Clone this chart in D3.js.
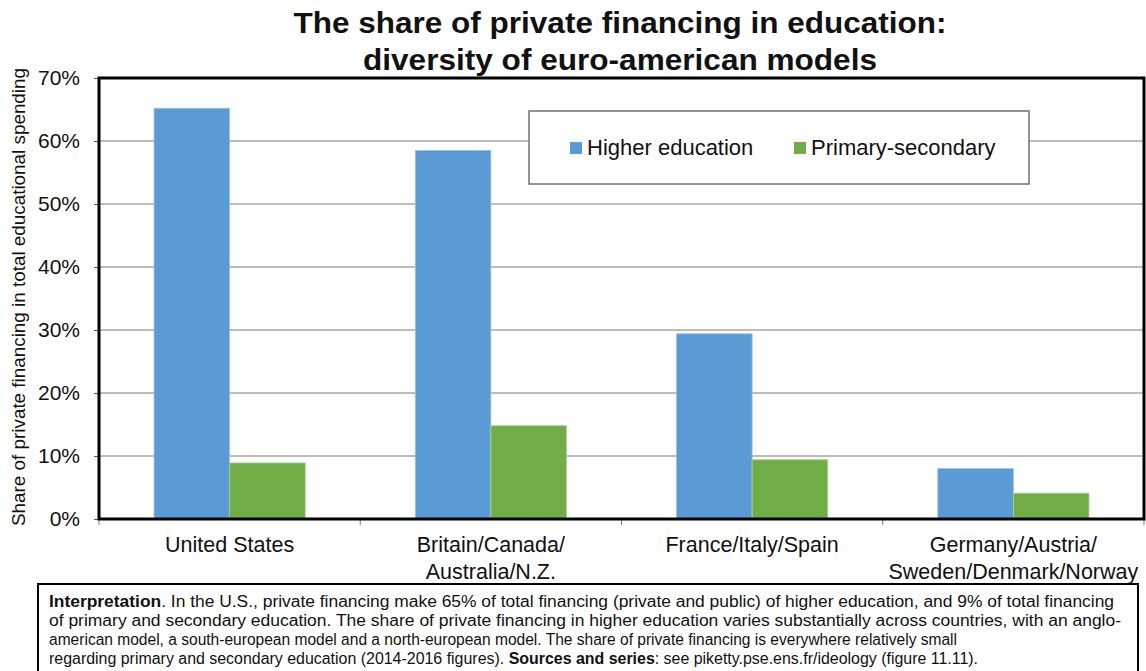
<!DOCTYPE html>
<html>
<head>
<meta charset="utf-8">
<script src="https://cdn.jsdelivr.net/npm/d3@7"></script>
<style>
  html, body { margin: 0; padding: 0; background: #fff; }
  svg { display: block; }
  text { font-family: "Liberation Sans", Arial, sans-serif; fill: #111; }
  .narrow { font-family: "Liberation Sans Narrow", "Liberation Sans", Arial, sans-serif; }
</style>
</head>
<body>
<svg id="chart" width="1146" height="671"></svg>
<script>
// Country groups and the share of private financing in each spending category
const groups = ["United States", "Britain/Canada/Australia/N.Z.", "France/Italy/Spain", "Germany/Austria/Sweden/Denmark/Norway"];
const groupLabels = [["United States"], ["Britain/Canada/", "Australia/N.Z."], ["France/Italy/Spain"], ["Germany/Austria/", "Sweden/Denmark/Norway"]];
const seriesNames = ["Higher education", "Primary-secondary"];
const higherEducation = [0.652, 0.585, 0.294, 0.080];
const primarySecondary = [0.089, 0.148, 0.094, 0.041];
const yTicks = [0, 0.1, 0.2, 0.3, 0.4, 0.5, 0.6, 0.7];
const colors = ["#5b9bd5", "#70ad47"];

const titleLines = ["The share of private financing in education:", "diversity of euro-american models"];
const yTitle = "Share of private financing in total educational spending";
const noteLines = [
  [["Interpretation", true], [". In the U.S., private financing make 65% of total financing (private and public) of higher education, and 9% of total financing", false]],
  [["of primary and secondary education. The share of private financing in higher education varies substantially across countries, with an anglo-", false]],
  [["american model, a south-european model and a north-european model. The share of private financing is everywhere relatively small", false]],
  [["regarding primary and secondary education (2014-2016 figures). ", false], ["Sources and series", true], [": see piketty.pse.ens.fr/ideology (figure 11.11).", false]]
];

const svg = d3.select("#chart");
const plot = { left: 99, right: 1144, top: 78, bottom: 519 };

const x = d3.scaleBand().domain(groups).range([plot.left, plot.right]).paddingInner(0).paddingOuter(0);
const xs = d3.scaleBand().domain(seriesNames).range([0, x.bandwidth()]).paddingInner(0).paddingOuter(0.728);
const y = d3.scaleLinear().domain([0, 0.7]).range([plot.bottom, plot.top]);

// Title
const title = svg.append("g");
const titleWidths = [653, 514];
const titleBaselines = [33, 70];
titleLines.forEach((t, i) => {
  title.append("text")
    .attr("class", "narrow")
    .attr("x", 620).attr("y", titleBaselines[i])
    .attr("text-anchor", "middle")
    .attr("font-size", 30).attr("font-weight", "bold")
    .attr("textLength", titleWidths[i]).attr("lengthAdjust", "spacingAndGlyphs")
    .text(t);
});

// Horizontal gridlines
svg.append("g")
  .selectAll("line")
  .data(yTicks.filter(d => d > 0 && d < 0.7))
  .join("line")
  .attr("x1", plot.left).attr("x2", plot.right)
  .attr("y1", d => y(d)).attr("y2", d => y(d))
  .attr("stroke", "#a6a6a6").attr("stroke-width", 1.5);

// Bars
const data = groups.map((g, i) => ({ group: g, values: [higherEducation[i], primarySecondary[i]] }));
svg.append("g")
  .selectAll("g")
  .data(data)
  .join("g")
  .attr("transform", d => `translate(${x(d.group)},0)`)
  .selectAll("rect")
  .data(d => d.values.map((v, k) => ({ key: seriesNames[k], value: v, k })))
  .join("rect")
  .attr("x", d => xs(d.key))
  .attr("width", xs.bandwidth())
  .attr("y", d => y(d.value))
  .attr("height", d => y(0) - y(d.value))
  .attr("fill", d => colors[d.k])
  .attr("stroke", d => d.k === 0 ? "#9dc3e6" : "#a9d18e")
  .attr("stroke-width", 0.8);

// Y axis with percent labels
const yAxis = d3.axisLeft(y).tickValues(yTicks).tickFormat(d3.format(".0%")).tickSize(5).tickPadding(14);
const gy = svg.append("g").attr("transform", `translate(${plot.left},0)`).call(yAxis);
gy.select(".domain").remove();
gy.selectAll(".tick line").attr("stroke", "#555").attr("stroke-width", 1);
gy.selectAll(".tick text")
  .attr("font-family", "'Liberation Sans', Arial, sans-serif")
  .attr("font-size", 21).attr("fill", "#111");

// X axis ticks at group boundaries
const xBounds = groups.map(g => x(g)).concat([plot.right]);
svg.append("g")
  .selectAll("line")
  .data(xBounds)
  .join("line")
  .attr("x1", d => d).attr("x2", d => d)
  .attr("y1", plot.bottom).attr("y2", plot.bottom + 6)
  .attr("stroke", "#777").attr("stroke-width", 1);

// Plot frame
svg.append("rect")
  .attr("x", plot.left).attr("y", plot.top)
  .attr("width", plot.right - plot.left).attr("height", plot.bottom - plot.top)
  .attr("fill", "none").attr("stroke", "#000").attr("stroke-width", 3);

// Category labels
svg.append("g")
  .selectAll("text")
  .data(groups.map((g, i) => ({ g, lines: groupLabels[i] })))
  .join("text")
  .attr("text-anchor", "middle")
  .attr("font-size", 21.5)
  .each(function (d) {
    d3.select(this).selectAll("tspan")
      .data(d.lines)
      .join("tspan")
      .attr("x", x(d.g) + x.bandwidth() / 2)
      .attr("y", (l, j) => 552 + j * 27)
      .text(l => l);
  });

// Y axis title
svg.append("text")
  .attr("transform", "translate(25,297) rotate(-90)")
  .attr("text-anchor", "middle")
  .attr("font-size", 18)
  .attr("textLength", 458).attr("lengthAdjust", "spacingAndGlyphs")
  .text(yTitle);

// Legend
const legend = svg.append("g");
legend.append("rect")
  .attr("x", 529).attr("y", 111).attr("width", 500).attr("height", 73)
  .attr("fill", "#fff").attr("stroke", "#707070").attr("stroke-width", 1.5);
const legendX = [570, 794];
seriesNames.forEach((s, i) => {
  legend.append("rect")
    .attr("x", legendX[i]).attr("y", 142).attr("width", 12).attr("height", 12)
    .attr("fill", colors[i]);
  legend.append("text")
    .attr("x", legendX[i] + 17).attr("y", 155)
    .attr("font-size", 22)
    .text(s);
});

// Interpretation note box
svg.append("rect")
  .attr("x", 38).attr("y", 584).attr("width", 1100).attr("height", 95)
  .attr("fill", "#fff").attr("stroke", "#000").attr("stroke-width", 2);
const noteWidths = [1065, 1072, 908, 929];
noteLines.forEach((parts, i) => {
  const t = svg.append("text")
    .attr("class", "narrow")
    .attr("x", 49).attr("y", 607 + i * 19)
    .attr("font-size", 16)
    .attr("textLength", noteWidths[i]).attr("lengthAdjust", "spacingAndGlyphs");
  parts.forEach(([str, bold]) => {
    t.append("tspan").attr("font-weight", bold ? "bold" : "normal").text(str);
  });
});
</script>
</body>
</html>
